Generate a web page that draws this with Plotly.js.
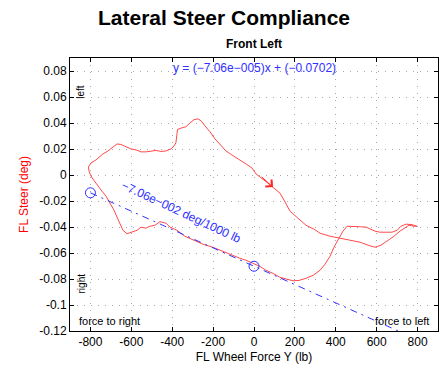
<!DOCTYPE html>
<html>
<head>
<meta charset="utf-8">
<script src="https://cdn.plot.ly/plotly-3.0.1.min.js"></script>
<style>html,body{margin:0;padding:0;background:#fff;}#chart{width:448px;height:372px;}</style>
</head>
<body>
<div id="chart"></div>
<script>
const forceY = [-810,-797,-773,-739,-714,-690,-670,-651,-626,-602,-577,-553,-528,-504,-479,-455,-430,-406,-391,-382,
  -377,-374,-352,-333,-313,-294,-274,-259,-240,-215,-191,-166,-137,-108,-68,-39,-10,10,49,93,
  127,152,176,215,254,294,323,372,421,470,519,558,592,621,651,685,714,739,758,783,
  797,773,744,719,700,675,646,616,592,567,548,519,484,455,435,411,391,372,347,323,
  289,254,220,191,161,127,93,59,29,-5,-39,-68,-103,-152,-201,-249,-298,-338,-377,-411,
  -430,-460,-484,-509,-528,-553,-572,-597,-621,-641,-656,-670,-685,-704,-724,-744,-768,-788,-800,-807,-810];
const steer = [0.0062,0.0093,0.0116,0.0162,0.0185,0.0216,0.0239,0.0235,0.0216,0.0201,0.0193,0.0178,0.0178,0.0185,0.0189,0.0181,0.0185,0.0201,0.0224,0.0247,
  0.0301,0.0351,0.0363,0.0371,0.0401,0.0425,0.0432,0.0417,0.0378,0.0332,0.0278,0.0232,0.0185,0.0154,0.0116,0.0085,0.0054,0.0008,-0.0039,-0.0093,
  -0.0139,-0.0208,-0.0278,-0.0332,-0.0386,-0.0417,-0.0448,-0.0471,-0.0486,-0.0502,-0.0517,-0.0540,-0.0556,-0.0540,-0.0510,-0.0471,-0.0432,-0.0409,-0.0386,-0.0394,
  -0.0394,-0.0382,-0.0378,-0.0394,-0.0425,-0.0440,-0.0440,-0.0440,-0.0432,-0.0417,-0.0401,-0.0398,-0.0394,-0.0394,-0.0432,-0.0494,-0.0556,-0.0625,-0.0687,-0.0733,
  -0.0772,-0.0795,-0.0811,-0.0814,-0.0803,-0.0787,-0.0757,-0.0733,-0.0703,-0.0679,-0.0656,-0.0641,-0.0618,-0.0587,-0.0556,-0.0533,-0.0502,-0.0471,-0.0425,-0.0401,
  -0.0371,-0.0359,-0.0386,-0.0394,-0.0409,-0.0401,-0.0425,-0.0440,-0.0452,-0.0425,-0.0378,-0.0324,-0.0270,-0.0216,-0.0162,-0.0124,-0.0077,-0.0031,0,0.0031,0.0062];

// Linear fit line and its marker points
const fitX = [-800, 720];
const fitY = [-0.0137, -0.1210];
const markX = [-800, 0];
const markY = [-0.0137, -0.0702];

// Ticks
const xTickVals = [-800,-600,-400,-200,0,200,400,600,800];
const xTickText = ["-800","-600","-400","-200","0","200","400","600","800"];
const yTickVals = [0.08,0.06,0.04,0.02,0,-0.02,-0.04,-0.06,-0.08,-0.1,-0.12];
const yTickText = ["0.08","0.06","0.04","0.02","0","-0.02","-0.04","-0.06","-0.08","-0.1","-0.12"];

const red = '#ff4a4a';
const blue = '#3030ff';

const traces = [
  {x: forceY, y: steer, mode: 'lines', line: {color: red, width: 1}, hoverinfo: 'skip'},
  {x: fitX, y: fitY, mode: 'lines', line: {color: blue, width: 1, dash: '7px,5px,2px,5px'}, hoverinfo: 'skip'},
  {x: markX, y: markY, mode: 'markers', marker: {symbol: 'circle-open', size: 10, color: blue, line: {width: 1, color: blue}}, hoverinfo: 'skip'}
];

const font = 'Arial, "Liberation Sans", sans-serif';
const layout = {
  width: 448, height: 372,
  margin: {l: 70, r: 10, t: 58, b: 41},
  paper_bgcolor: '#fff', plot_bgcolor: '#fff',
  showlegend: false,
  font: {family: font, size: 12, color: '#000'},
  title: {text: '<b>Lateral Steer Compliance</b>', font: {family: font, size: 21, color: '#000'}, x: 0.5, xanchor: 'center', y: 0.952, yanchor: 'middle', yref: 'container'},
  xaxis: {
    range: [-900, 900], tickvals: xTickVals, ticktext: xTickText,
    ticks: 'inside', ticklen: 4, tickcolor: '#000', mirror: 'ticks',
    showline: true, linecolor: '#000', linewidth: 1,
    showgrid: true, gridcolor: '#a8a8a8', griddash: '1px,6px', gridwidth: 1,
    zeroline: false, tickfont: {size: 12},
    title: {text: 'FL Wheel Force Y (lb)', font: {size: 12, color: '#000'}, standoff: 4}
  },
  yaxis: {
    range: [-0.12, 0.09], tickvals: yTickVals, ticktext: yTickText,
    ticks: 'inside', ticklen: 4, tickcolor: '#000', mirror: 'ticks',
    showline: true, linecolor: '#000', linewidth: 1,
    showgrid: true, gridcolor: '#a8a8a8', griddash: '1px,6px', gridwidth: 1,
    zeroline: false, tickfont: {size: 12},
    title: {text: 'FL Steer (deg)', font: {size: 12, color: '#ff0000'}, standoff: 8}
  },
  annotations: [
    {text: '<b>Front Left</b>', xref: 'paper', yref: 'paper', x: 0.5, y: 1, yshift: 14, xanchor: 'center', yanchor: 'middle', showarrow: false, font: {size: 12, color: '#000'}},
    {text: 'y = (−7.06e−005)x + (−0.0702)', xref: 'x', yref: 'y', x: 0, y: 0.0826, xanchor: 'center', yanchor: 'middle', showarrow: false, font: {size: 12, color: blue}},
    {text: '−7.06e−002 deg/1000 lb', xref: 'x', yref: 'y', x: -357, y: -0.0286, textangle: 25, showarrow: false, font: {size: 12, color: blue}},
    {text: 'left', xref: 'x', yref: 'y', x: -846, y: 0.064, textangle: -90, showarrow: false, font: {size: 10, color: '#000'}},
    {text: 'right', xref: 'x', yref: 'y', x: -846, y: -0.0834, textangle: -90, showarrow: false, font: {size: 10, color: '#000'}},
    {text: 'force to right', xref: 'x', yref: 'y', x: -864, y: -0.112, xanchor: 'left', showarrow: false, font: {size: 11, color: '#000'}},
    {text: 'force to left', xref: 'x', yref: 'y', x: 868, y: -0.112, xanchor: 'right', showarrow: false, font: {size: 11, color: '#000'}},
    {text: '', xref: 'x', yref: 'y', x: 93, y: -0.0093, axref: 'x', ayref: 'y', ax: 30, ay: -0.0005, showarrow: true, arrowhead: 4, arrowsize: 1.8, arrowwidth: 1, arrowcolor: '#ff2020'}
  ]
};

Plotly.newPlot('chart', traces, layout, {displayModeBar: false, staticPlot: true});
</script>
</body>
</html>
